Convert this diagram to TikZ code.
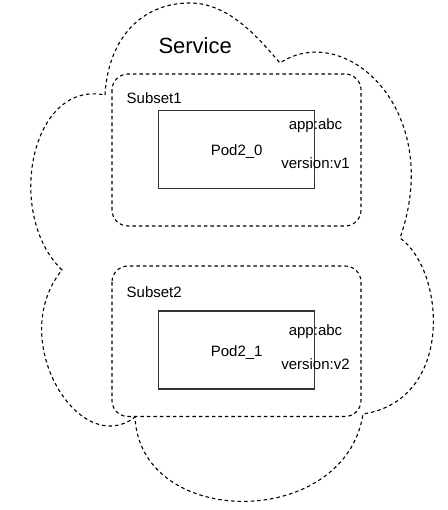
\documentclass[tikz,border=0pt]{standalone}
\usepackage{fontspec}
\setmainfont{Liberation Sans}
\begin{document}
\begin{tikzpicture}[x=1pt,y=-1pt,
  dashline/.style={draw=black,line width=1.1pt,dash pattern=on 3.5pt off 3pt},
  subsetbox/.style={dashline,rounded corners=16pt},
  podbox/.style={draw=black!80,line width=1.2pt},
  lbl/.style={font=\fontsize{15}{18}\selectfont,inner sep=0pt,anchor=base},
  lblw/.style={font=\fontsize{15}{18}\selectfont,inner sep=0pt,anchor=base west}]
\useasboundingbox (0,0) rectangle (447,510);
% cloud
\coordinate (c1) at (105,95);
\coordinate (ctop) at (190,3);
\coordinate (c2) at (280,63);
\coordinate (c3) at (400,238);
\coordinate (c4) at (363,414);
\coordinate (c5) at (135,417);
\coordinate (c6) at (62,270);
\draw[dashline] (c1) .. controls (108,40) and (140,3) .. (ctop)
  .. controls (230,3) and (260,40) .. (c2)
  .. controls (345,20) and (445,110) .. (c3)
  .. controls (445,270) and (455,400) .. (c4)
  .. controls (345,530) and (140,530) .. (c5)
  .. controls (80,460) and (5,340) .. (c6)
  .. controls (5,215) and (30,80) .. cycle;
\node[font=\fontsize{22}{26}\selectfont,inner sep=0pt,anchor=base west] (service) at (158.3,53.3) {Service};
% subsets
\draw[subsetbox] (112,74) rectangle (361,226);
\draw[subsetbox] (112,266) rectangle (361,416.5);
\node[lblw] (sub1) at (126.5,103.3) {Subset1};
\node[lblw] (sub2) at (126.5,297.7) {Subset2};
% pods
\node[podbox,minimum width=156pt,minimum height=77.6pt,inner sep=0pt] (pod0) at (236.2,149.5) {};
\node[podbox,minimum width=156pt,minimum height=78pt,inner sep=0pt] (pod1) at (236.3,350) {};
\node[lbl] (p0) at (236.7,156) {Pod2\_0};
\node[lbl] (p1) at (236.7,356.7) {Pod2\_1};
\node[lbl] (a0) at (315.5,129.3) {app:abc};
\node[lbl] (v0) at (315.5,168.3) {version:v1};
\node[lbl] (a1) at (315.5,335) {app:abc};
\node[lbl] (v1) at (315.5,369.3) {version:v2};
\end{tikzpicture}
\end{document}
